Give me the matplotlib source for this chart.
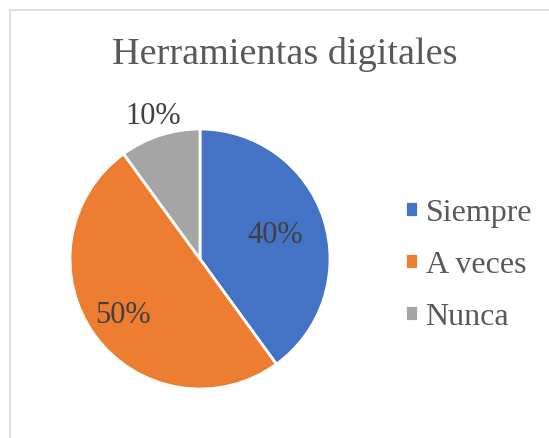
import matplotlib
matplotlib.use("Agg")
import matplotlib.pyplot as plt
import numpy as np
from matplotlib.patches import Rectangle

categories = ["Siempre", "A veces", "Nunca"]
values = [40, 50, 10]
colors = ["#4472C4", "#ED7D31", "#A5A5A5"]
title = "Herramientas digitales"

plt.rcParams['font.family'] = ['Liberation Serif', 'DejaVu Serif']
W, H = 549, 439
fig = plt.figure(figsize=(W/100, H/100), dpi=100)
fig.patches.append(Rectangle((10/W, -0.1), 1.2, (H-11)/H + 0.1, transform=fig.transFigure,
                             facecolor='white', edgecolor='#D9D9D9', linewidth=1.2, zorder=-5))

cx, cy, r = 200, 439-260, 130
ax = fig.add_axes([(cx-r)/W, (cy-r)/H, 2*r/W, 2*r/H])
ax.patch.set_visible(False)
wedges, texts, autotexts = ax.pie(values, colors=colors, startangle=90, counterclock=False,
                                  autopct='%1.0f%%', pctdistance=0.62,
                                  wedgeprops=dict(edgecolor='white', linewidth=2),
                                  textprops=dict(color='#404040', fontsize=22))
ax.set_xlim(-1, 1); ax.set_ylim(-1, 1)
ax.set_aspect('equal')
dists = [0.61, 0.73, 1.16]
for w, t, d in zip(wedges, autotexts, dists):
    ang = np.deg2rad((w.theta1 + w.theta2) / 2)
    t.set_position((d*np.cos(ang), d*np.sin(ang)))
    t.set_ha('center'); t.set_va('center')

fig.text(285/W, 1-55/H, title, ha='center', va='center', fontsize=27.5, color='#595959')

leg = fig.legend(wedges, categories, loc='center left', bbox_to_anchor=(376/W, 1-266/H),
                 frameon=False, fontsize=23, handlelength=0.4, handleheight=0.4,
                 handletextpad=0.25, labelspacing=0.72, labelcolor='#595959')

fig.savefig("out.png", dpi=100)
